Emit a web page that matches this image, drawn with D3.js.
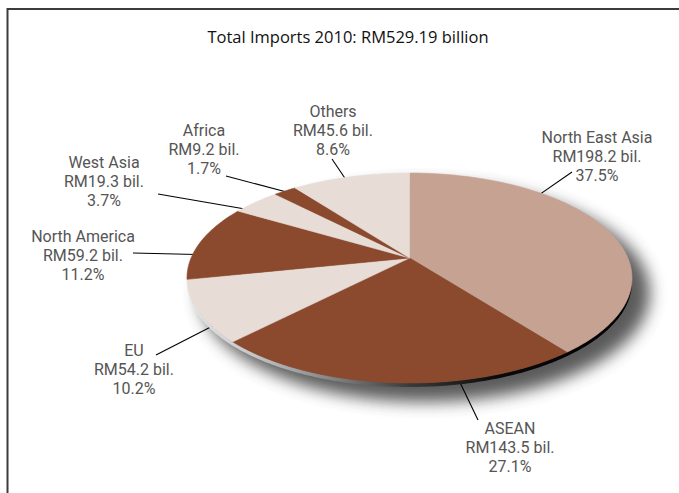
<!DOCTYPE html>
<html>
<head>
<meta charset="utf-8">
<script src="https://cdn.jsdelivr.net/npm/d3@7"></script>
<style>
  html, body { margin: 0; padding: 0; background: #fff; }
  svg { display: block; }
  text { font-family: "Open Sans", "Noto Sans", sans-serif; }
  .lbl text { font-family: Roboto, "Open Sans", sans-serif; }
</style>
</head>
<body>
<svg id="chart" width="679" height="493"></svg>
<script>
// Import sources, clockwise from 12 o'clock
const categories = ["North East Asia", "ASEAN", "EU", "North America", "West Asia", "Africa", "Others"];
const valuesBil  = [198.2, 143.5, 54.2, 59.2, 19.3, 9.2, 45.6];
const sharesPct  = [37.5, 27.1, 10.2, 11.2, 3.7, 1.7, 8.6];
const sliceColors = ["#c6a293", "#8b4a2e", "#e8ddd6", "#8b4a2e", "#e8ddd6", "#8b4a2e", "#e8ddd6"];
const titleText = "Total Imports 2010: RM529.19 billion";

// Label placement: text centre / first baseline, leader end next to the text,
// and where along its slice the leader meets the rim (0..1)
const labelLayout = [
  { x: 597, y: 143, lx: 572, ly: 172, at: 0.27 },
  { x: 510, y: 434, lx: 478, ly: 420, at: 0.33 },
  { x: 134, y: 356, lx: 156, ly: 355, at: 0.28 },
  { x: 83,  y: 242, lx: 133, ly: 253, at: 0.34 },
  { x: 104, y: 168, lx: 158, ly: 194, at: 0.15 },
  { x: 204, y: 136, lx: 226, ly: 176, at: 0.5 },
  { x: 333, y: 117, lx: 332, ly: 159, at: 0.45 }
];

const W = 679, H = 493;
const svg = d3.select("#chart");

// Tilted disc geometry
const cx = 409.5, cy = 278, rx = 222.5, ry = 105;
const apex = [cx, cy - 20];    // centre of the disc, raised by the tilt
const depth = 4;               // visible thickness of the disc

const rim = a => [cx + rx * Math.sin(a), cy - ry * Math.cos(a)];

const defs = svg.append("defs");
const blur = defs.append("filter").attr("id", "shadowBlur")
  .attr("x", "-20%").attr("y", "-30%").attr("width", "140%").attr("height", "160%");
blur.append("feGaussianBlur").attr("stdDeviation", 8);

const sideGrad = defs.append("linearGradient").attr("id", "sideGrad")
  .attr("gradientUnits", "userSpaceOnUse")
  .attr("x1", cx - rx).attr("x2", cx + rx).attr("y1", 0).attr("y2", 0);
[[0, "#e4e6e8"], [0.15, "#c4c6c8"], [0.35, "#7a7a7a"], [0.5, "#3a3a3a"], [0.7, "#0a0a0a"], [1, "#000"]]
  .forEach(([o, c]) => sideGrad.append("stop").attr("offset", o).attr("stop-color", c));

// Frame
svg.append("path")
  .attr("d", `M7.5,${H} L7.5,9 L${W},9`)
  .attr("fill", "none").attr("stroke", "#3c3c3c").attr("stroke-width", 2);

// Title
svg.append("text")
  .attr("x", 348).attr("y", 43)
  .attr("text-anchor", "middle")
  .attr("font-size", 16.5).attr("fill", "#111")
  .text(titleText);

// Pie layout
const pie = d3.pie().sort(null).value(d => d).startAngle(0).endAngle(2 * Math.PI);
const arcs = pie(sharesPct);

// Drop shadow
svg.append("ellipse")
  .attr("cx", cx + 15).attr("cy", cy + 15)
  .attr("rx", rx + 3).attr("ry", ry + 4)
  .attr("fill", "#4a4a4a").attr("opacity", 0.9)
  .attr("filter", "url(#shadowBlur)");

// Leader lines (drawn beneath the disc so they stop at its edge)
const leaders = svg.append("g");
arcs.forEach((d, i) => {
  const L = labelLayout[i];
  const a = d.startAngle + (d.endAngle - d.startAngle) * L.at;
  const p = rim(a);
  const inward = [p[0] + (apex[0] - p[0]) * 0.02, p[1] + (apex[1] - p[1]) * 0.02];
  leaders.append("line")
    .attr("x1", L.lx).attr("y1", L.ly)
    .attr("x2", inward[0]).attr("y2", inward[1])
    .attr("stroke", "#000").attr("stroke-width", 1.1);
});

// Side of the disc (front half)
const frontA = d3.range(90, 270.01, 1).map(t => t * Math.PI / 180);
const topEdge = frontA.map(rim);
const botEdge = frontA.slice().reverse().map(a => { const p = rim(a); return [p[0], p[1] + depth]; });
svg.append("path")
  .attr("d", "M" + topEdge.concat(botEdge).map(p => p.join(",")).join("L") + "Z")
  .attr("fill", "url(#sideGrad)");

// Slices on the top face
const step = Math.PI / 360;
svg.append("g").selectAll("path")
  .data(arcs)
  .join("path")
  .attr("d", d => {
    const n = Math.max(2, Math.ceil((d.endAngle - d.startAngle) / step));
    const pts = d3.range(n + 1).map(k => rim(d.startAngle + (d.endAngle - d.startAngle) * k / n));
    return "M" + apex.join(",") + "L" + pts.map(p => p.join(",")).join("L") + "Z";
  })
  .attr("fill", (d, i) => sliceColors[i])
  .attr("stroke", (d, i) => sliceColors[i])
  .attr("stroke-width", 0.6);

// Labels
const lineH = 19;
const labels = svg.append("g").attr("class", "lbl")
  .attr("font-size", 16).attr("fill", "#555").attr("text-anchor", "middle");
categories.forEach((name, i) => {
  const L = labelLayout[i];
  const lines = [name, `RM${valuesBil[i]} bil.`, `${sharesPct[i]}%`];
  lines.forEach((s, k) => {
    labels.append("text")
      .attr("x", L.x).attr("y", L.y + k * lineH - 0.5)
      .text(s);
  });
});
</script>
</body>
</html>
